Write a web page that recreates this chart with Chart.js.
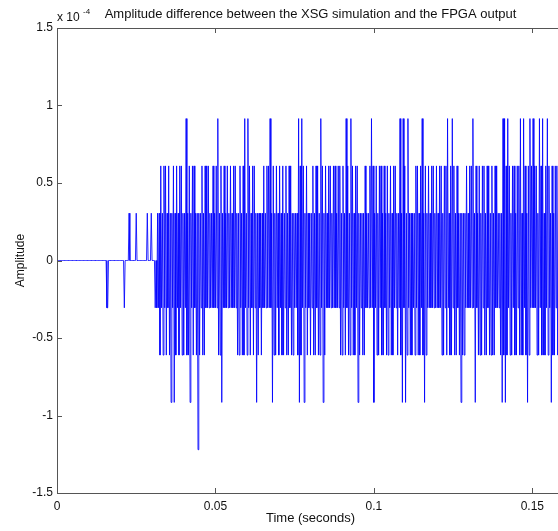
<!DOCTYPE html>
<html>
<head>
<meta charset="utf-8">
<script src="https://cdn.jsdelivr.net/npm/chart.js@4.4.0/dist/chart.umd.min.js"></script>
<style>
html, body { margin: 0; padding: 0; background: #fff; overflow: hidden; }
</style>
</head>
<body>
<canvas id="grafico" width="566" height="531"></canvas>
<script>
const sampleStep = 0.00025; // segundos entre amostras
const lsb = 0.30518; // 1 LSB (2^-15) em unidades de 1e-4

// nivel de cada amostra, em LSB (trecho inicial quase parado)
const startLevels = [
    0,0,0,0,0,0,0,0,0,0,0,0,0,0,0,0,0,0,0,0,
    0,0,0,0,0,0,0,0,0,0,0,0,0,0,0,0,0,0,0,0,
    0,0,0,0,0,0,0,0,0,0,0,0,0,0,0,0,0,0,0,0,
    0,0,0,-1,-1,0,0,0,0,0,0,0,0,0,0,0,0,0,0,0,
    0,0,0,0,0,-1,0,0,0,0,0,1,0,0,0,0,0,0,0,0,
    1,0,0,0,0,0,0,0,0,0,0,0,0,0,1,0,0,0,0,1,
    0,0,0,0,-1,0,-1
];

// trecho com ruido denso
const busyLevels = [
    1,-1,1,-2,2,-1,1,-2,2,-1,2,-2,1,
    -1,2,-2,1,-3,1,-1,2,-3,1,-2,2,-1,1,-2,2,-1,2,-2,1,
    -2,1,-1,3,-2,1,-2,2,-3,1,-1,2,-2,2,-1,1,-2,1,-4,1,
    -2,1,-1,2,-2,1,-2,2,-1,2,-1,2,-1,1,-1,1,-1,2,-1,1,
    -1,2,-1,3,-2,1,-2,2,-3,1,-1,2,-1,1,-1,2,-1,1,-1,2,
    -1,1,-1,2,-1,2,-1,1,-2,1,-2,2,-1,1,-2,2,-2,3,-1,1,
    -2,3,-1,2,-2,1,-1,2,-2,2,-1,1,-3,1,-2,1,-1,1,-2,1,
    -1,2,-1,1,-1,2,-1,2,-1,3,-1,1,-3,2,-2,1,-2,2,-1,1,
    -2,2,-1,1,-2,2,-2,1,-1,2,-2,1,-2,2,-1,2,-2,1,-2,1,
    -1,1,-1,1,-2,3,-3,2,-2,3,-1,2,-3,1,-1,2,-2,1,-1,1,
    -2,1,-1,2,-2,1,-2,2,-1,2,-2,1,-2,3,-1,2,-3,1,-2,2,
    -1,1,-1,2,-1,2,-1,1,-1,2,-1,2,-1,1,-1,2,-1,2,-2,1,
    -2,2,-1,1,-2,3,-1,2,-2,1,-2,3,-1,2,-2,1,-2,2,-1,2,
    -3,1,-2,1,-1,1,-2,1,-2,2,-1,1,-1,1,-1,2,-1,3,-1,2,
    -3,1,-1,2,-2,1,-2,2,-1,2,-2,1,-2,2,-1,1,-2,2,-2,1,
    -1,2,-2,1,-2,2,-1,2,-1,1,-2,1,-1,3,-2,1,-3,3,-1,2,
    -3,1,-2,3,-1,1,-2,1,-2,1,-1,1,-2,2,-1,2,-2,1,-2,2,
    -1,3,-2,1,-3,2,-2,1,-1,2,-1,1,-1,2,-1,2,-1,1,-1,2,
    -1,1,-1,2,-1,2,-2,1,-2,2,-1,2,-2,3,-1,1,-2,2,-2,3,
    -1,2,-2,1,-2,2,-1,1,-2,1,-3,1,-2,1,-2,1,-1,2,-1,1,
    -1,2,-1,2,-1,3,-1,1,-3,2,-1,1,-2,2,-2,1,-2,2,-1,2,
    -2,1,-2,2,-1,2,-2,1,-2,2,-2,1,-2,2,-1,2,-1,1,-1,1,
    -2,1,-3,3,-2,3,-3,2,-2,3,-1,2,-2,1,-2,2,-1,2,-2,1,
    -2,2,-1,2,-2,3,-2,1,-2,3,-1,2,-2,1,-3,2,-2,3,-1,2,
    -1,3,-1,2,-1,2,-2,1,-2,3,-1,2,-2,3,-2,1,-2,2,-1,3,
    -2,2,-1,1,-3,2,-2,1,-2,2,-1,2,-2,1
];

const xTicks = [0, 0.05, 0.1, 0.15];
const yTicks = [-1.5, -1, -0.5, 0, 0.5, 1, 1.5];
const titulo = 'Amplitude difference between the XSG simulation and the FPGA output';
const fonte = '"Liberation Sans", Arial, sans-serif';

const niveis = startLevels.concat(busyLevels);
const pontos = niveis.map((n, i) => ({ x: i * sampleStep, y: n * lsb }));

// moldura estilo matlab: caixa, ticks para dentro, titulo e expoente
const moldura = {
    id: 'moldura',
    afterDraw(chart) {
        const { ctx, chartArea: a, scales: { x, y } } = chart;
        ctx.save();
        ctx.strokeStyle = '#555';
        ctx.lineWidth = 1;
        ctx.beginPath();
        ctx.moveTo(a.left + 0.5, a.bottom + 0.5);
        ctx.lineTo(a.left + 0.5, a.top + 0.5);
        ctx.lineTo(a.right, a.top + 0.5);
        ctx.moveTo(a.left, a.bottom + 0.5);
        ctx.lineTo(a.right, a.bottom + 0.5);
        x.ticks.forEach(t => {
            const px = Math.round(x.getPixelForValue(t.value)) + 0.5;
            ctx.moveTo(px, a.bottom); ctx.lineTo(px, a.bottom - 5);
            ctx.moveTo(px, a.top); ctx.lineTo(px, a.top + 5);
        });
        y.ticks.forEach(t => {
            const py = Math.round(y.getPixelForValue(t.value)) + 0.5;
            ctx.moveTo(a.left, py); ctx.lineTo(a.left + 5, py);
        });
        ctx.stroke();

        ctx.fillStyle = '#111';
        ctx.font = '13px ' + fonte;
        ctx.textAlign = 'center';
        ctx.textBaseline = 'middle';
        ctx.fillText(titulo, (a.left + a.right) / 2, 14);
        ctx.textAlign = 'left';
        ctx.font = '12px ' + fonte;
        ctx.fillText('x 10', a.left, 18);
        ctx.font = '8px ' + fonte;
        ctx.fillText('-4', a.left + 26, 12);
        ctx.restore();
    }
};

new Chart(document.getElementById('grafico'), {
    type: 'line',
    data: {
        datasets: [{
            data: pontos,
            borderColor: '#0000ff',
            borderWidth: 0.85,
            pointRadius: 0,
            tension: 0,
            fill: false
        }]
    },
    options: {
        responsive: false,
        animation: false,
        layout: { padding: { top: 28, right: 2, left: 0, bottom: 0 } },
        plugins: {
            legend: { display: false },
            tooltip: { enabled: false }
        },
        scales: {
            x: {
                type: 'linear',
                min: 0,
                max: 0.16,
                afterBuildTicks: s => { s.ticks = xTicks.map(v => ({ value: v })); },
                afterFit: s => { s.height = 38; },
                grid: { display: false, drawTicks: false },
                border: { display: false },
                ticks: { padding: 6, color: '#111', font: { family: fonte, size: 12 }, maxRotation: 0, callback: v => String(v) },
                title: { display: true, text: 'Time (seconds)', color: '#111', font: { family: fonte, size: 13 }, padding: { top: 0, bottom: 5 } }
            },
            y: {
                min: -1.5,
                max: 1.5,
                afterBuildTicks: s => { s.ticks = yTicks.map(v => ({ value: v })); },
                afterFit: s => { s.width = 57; },
                grid: { display: false, drawTicks: false },
                border: { display: false },
                ticks: { padding: 4, color: '#111', font: { family: fonte, size: 12 }, callback: v => String(v) },
                title: { display: true, text: 'Amplitude', color: '#111', font: { family: fonte, size: 12 }, padding: { top: 13, bottom: 0 } }
            }
        }
    },
    plugins: [moldura]
});
</script>
</body>
</html>
